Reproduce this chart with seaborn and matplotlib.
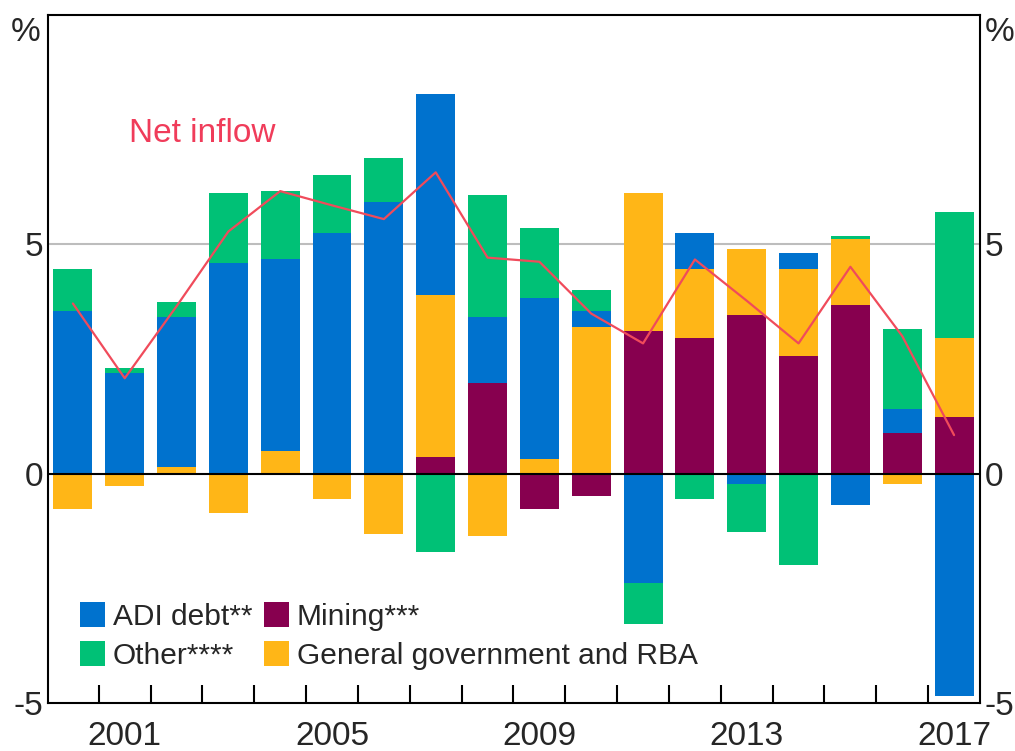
import numpy as np
import matplotlib
matplotlib.use("Agg")
import matplotlib.pyplot as plt
import seaborn as sns

# data (% of GDP)
years = [str(y) for y in range(2000, 2018)]
mining = [0, 0, 0, 0, 0, 0, 0, 0.36, 1.97, -0.78, -0.48, 3.12, 2.95, 3.46, 2.56, 3.67, 0.88, 1.24]
gov_rba = [-0.78, -0.27, 0.15, -0.86, 0.49, -0.56, -1.32, 3.53, -1.36, 0.31, 3.2, 3.0, 1.52, 1.44, 1.91, 1.44, -0.23, 1.71]
adi_debt = [3.54, 2.19, 3.26, 4.6, 4.19, 5.24, 5.92, 4.39, 1.44, 3.52, 0.34, -2.39, 0.77, -0.23, 0.34, -0.69, 0.54, -4.84]
other = [0.93, 0.12, 0.34, 1.52, 1.49, 1.27, 0.96, -1.71, 2.67, 1.53, 0.46, -0.88, -0.56, -1.05, -2.0, 0.08, 1.74, 2.75]
net_inflow = [3.71, 2.08, 3.65, 5.28, 6.16, 5.85, 5.55, 6.57, 4.71, 4.62, 3.49, 2.84, 4.67, 3.77, 2.84, 4.51, 3.0, 0.84]

shown_years = ["2001", "2005", "2009", "2013", "2017"]

sns.set_theme(style="white")
plt.rcParams["font.family"] = ["Liberation Sans", "DejaVu Sans"]

fig = plt.figure(figsize=(10.15, 7.51), dpi=100)
ax = fig.add_axes([0.0473, 0.064, 0.9182, 0.916])

# stacking order: mining, government, ADI debt, other
series = [
    ("Mining***", mining, "#87004F"),
    ("General government and RBA", gov_rba, "#FFB617"),
    ("ADI debt**", adi_debt, "#0072CE"),
    ("Other****", other, "#00C176"),
]

pos_base = np.zeros(len(years))
neg_base = np.zeros(len(years))
handles = {}
for name, vals, col in series:
    vals = np.array(vals, dtype=float)
    pos = np.where(vals > 0, vals, 0)
    neg = np.where(vals < 0, vals, 0)
    sns.barplot(x=years, y=pos, bottom=pos_base, color=col, width=0.75,
                saturation=1, errorbar=None, linewidth=0, ax=ax, zorder=2)
    sns.barplot(x=years, y=neg, bottom=neg_base, color=col, width=0.75,
                saturation=1, errorbar=None, linewidth=0, ax=ax, zorder=2)
    pos_base += pos
    neg_base += neg
    handles[name] = plt.Rectangle((0, 0), 1, 1, color=col, lw=0)

sns.lineplot(x=years, y=net_inflow, color="#F04B5B", lw=1.6, sort=False, ax=ax, zorder=3)
ax.text(2.5, 7.42, "Net inflow", color="#F03C5A", fontsize=24, ha="center", va="center")

ax.axhline(5, color="#BDBDBD", lw=1.5, zorder=1)
ax.axhline(0, color="black", lw=1.5, zorder=2.5)

ax.set_ylim(-5, 10)
ax.set_xlim(-0.48, len(years) - 0.5)
ax.set_yticks([-5, 0, 5])
ax.set_yticklabels(["-5", "0", "5"])
ax.tick_params(axis="y", length=0, labelsize=24, pad=3.5, labelright=True, right=False)
pos_idx = [years.index(y) for y in shown_years]
ax.set_xticks(pos_idx)
ax.set_xticklabels(shown_years)
ax.tick_params(axis="x", which="major", length=0, labelsize=24, pad=13)
ax.set_xticks(np.arange(len(years) - 1) + 0.5, minor=True)
ax.tick_params(axis="x", which="minor", direction="in", length=13, width=1.5, color="black", bottom=True)
ax.set_xlabel("")
ax.set_ylabel("")

for s in ax.spines.values():
    s.set_visible(True)
    s.set_color("black")
    s.set_linewidth(1.5)

ax.text(-0.008, 0.974, "%", transform=ax.transAxes, ha="right", va="center", fontsize=24)
ax.text(1.005, 0.974, "%", transform=ax.transAxes, ha="left", va="center", fontsize=24)

order = ["ADI debt**", "Other****", "Mining***", "General government and RBA"]
ax.legend([handles[k] for k in order], order, ncol=2, loc="upper left",
          bbox_to_anchor=(0.034, 0.147), frameon=False, fontsize=21.5,
          handlelength=0.85, handleheight=0.9, handletextpad=0.25,
          columnspacing=0.4, labelspacing=0.35, borderpad=0, borderaxespad=0)

fig.savefig("out.png", dpi=100)
plt.close(fig)
